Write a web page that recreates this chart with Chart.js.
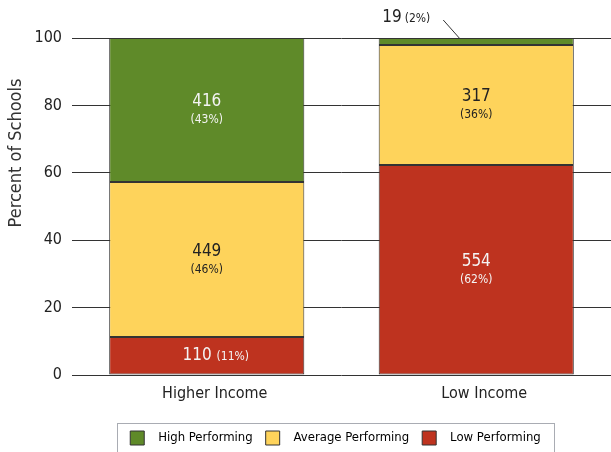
<!DOCTYPE html>
<html lang="en">
<head>
    <meta charset=utf-8>
    <title>Percent of Schools by Income</title>
    <script src="https://cdn.jsdelivr.net/npm/chart.js@4.4.1/dist/chart.umd.min.js"></script>
    <style>
        html, body { margin: 0; padding: 0; background: #fff; }
        #wrap { width: 611px; height: 452px; }
    </style>
</head>
<body>
<div id="wrap"><canvas id="myChart"></canvas></div>
<script>
    var FONT = "'Liberation Sans Narrow', 'DejaVu Sans Condensed', 'Roboto Condensed', sans-serif";

    var categories = ['Higher Income', 'Low Income'];
    var yTicks = [0, 20, 40, 60, 80, 100];
    var yTitle = 'Percent of Schools';

    var lowCounts = [110, 554];
    var lowPct = [11.3, 62.3];
    var avgCounts = [449, 317];
    var avgPct = [46.0, 35.6];
    var highCounts = [416, 19];
    var highPct = [42.7, 2.1];

    var green = '#5f8a29', yellow = '#fed35b', red = '#be331f';

    // writes count + (pct%) into each segment
    var segLabels = {
        id: 'segLabels',
        afterDatasetsDraw: function (chart) {
            var ctx = chart.ctx;
            ctx.save();
            chart.data.datasets.forEach(function (ds, di) {
                var meta = chart.getDatasetMeta(di);
                meta.data.forEach(function (bar, i) {
                    var p = bar.getProps(['x', 'y', 'base'], true);
                    var h = Math.abs(p.base - p.y);
                    var cy = (p.y + p.base) / 2;
                    var count = String(ds.counts[i]);
                    var pct = '(' + Math.round(ds.data[i]) + '%)';
                    var big = '17px ' + FONT, small = '12px ' + FONT;
                    ctx.fillStyle = ds.textColor;
                    ctx.textBaseline = 'middle';
                    if (h < 15) {
                        // too thin: put it above with a leader line
                        ctx.fillStyle = '#222';
                        ctx.font = small;
                        var pw = ctx.measureText(pct).width;
                        ctx.textAlign = 'right';
                        ctx.fillText(pct, p.x - 46, p.y - 19);
                        ctx.font = big;
                        ctx.fillText(count, p.x - 49 - pw, p.y - 20);
                        ctx.strokeStyle = '#333';
                        ctx.lineWidth = 1;
                        ctx.beginPath();
                        ctx.moveTo(p.x - 33, p.y - 18);
                        ctx.lineTo(p.x - 17, p.y);
                        ctx.stroke();
                    } else if (h < 45) {
                        ctx.font = big;
                        var cw = ctx.measureText(count + ' ').width;
                        ctx.font = small;
                        var pw2 = ctx.measureText(pct).width;
                        var x0 = p.x + 9 - (cw + pw2) / 2;
                        ctx.textAlign = 'left';
                        ctx.font = big;
                        ctx.fillText(count, x0, cy);
                        ctx.font = small;
                        ctx.fillText(pct, x0 + cw, cy + 1);
                    } else {
                        ctx.textAlign = 'center';
                        ctx.font = big;
                        ctx.fillText(count, p.x, cy - 8);
                        ctx.font = small;
                        ctx.fillText(pct, p.x, cy + 10);
                    }
                });
            });
            ctx.restore();
        }
    };

    // y title sits above the middle of the axis in the original
    var sideTitle = {
        id: 'sideTitle',
        afterDraw: function (chart) {
            var ctx = chart.ctx;
            ctx.save();
            ctx.translate(16, chart.chartArea.top + 115);
            ctx.rotate(-Math.PI / 2);
            ctx.font = '18px ' + FONT;
            ctx.fillStyle = '#333';
            ctx.textAlign = 'center';
            ctx.textBaseline = 'middle';
            ctx.fillText(yTitle, 0, 0);
            ctx.restore();
        }
    };

    // legend sits right of centre in the original, with a frame round it
    var legendFrame = {
        id: 'legendFrame',
        afterLayout: function (chart) {
            if (chart.legend) chart.legend.left += 60;
        },
        afterDraw: function (chart) {
            var boxes = chart.legend && chart.legend.legendHitBoxes;
            if (!boxes || !boxes.length) return;
            var l = Math.min.apply(null, boxes.map(function (b) { return b.left; }));
            var r = Math.max.apply(null, boxes.map(function (b) { return b.left + b.width; }));
            var t = Math.min.apply(null, boxes.map(function (b) { return b.top; }));
            var ctx = chart.ctx;
            ctx.save();
            ctx.strokeStyle = '#a9acb3';
            ctx.lineWidth = 1;
            ctx.strokeRect(Math.round(l - 13) + 0.5, Math.round(t - 8) + 0.5, Math.round(r - l + 26), 60);
            ctx.restore();
        }
    };

    var ctx = document.getElementById('myChart').getContext('2d');
    var chart = new Chart(ctx, {
        type: 'bar',
        data: {
            labels: categories,
            datasets: [
                {label: 'Low Performing', data: lowPct, counts: lowCounts, backgroundColor: red, textColor: '#f4f4f4'},
                {label: 'Average Performing', data: avgPct, counts: avgCounts, backgroundColor: yellow, textColor: '#222'},
                {label: 'High Performing', data: highPct, counts: highCounts, backgroundColor: green, textColor: '#f4f4f4'}
            ]
        },
        options: {
            responsive: true,
            maintainAspectRatio: false,
            animation: false,
            layout: {padding: {top: 38, right: 0, left: 0, bottom: -3}},
            datasets: {
                bar: {
                    borderColor: '#333',
                    borderWidth: 1,
                    borderSkipped: false,
                    categoryPercentage: 1,
                    barPercentage: 0.724
                }
            },
            scales: {
                x: {
                    stacked: true,
                    grid: {display: false},
                    border: {display: false},
                    ticks: {color: '#222', font: {family: FONT, size: 16}, padding: 1, labelOffset: 8},
                    afterFit: function (s) { s.height = 43; }
                },
                y: {
                    stacked: true,
                    min: 0,
                    max: 100,
                    afterBuildTicks: function (s) { s.ticks = yTicks.map(function (v) { return {value: v}; }); },
                    grid: {color: '#333', lineWidth: 1, drawTicks: false},
                    border: {display: false},
                    ticks: {color: '#222', font: {family: FONT, size: 16}, padding: 10},
                    afterFit: function (s) { s.width = 72; }
                }
            },
            plugins: {
                legend: {
                    position: 'bottom',
                    labels: {
                        color: '#222',
                        font: {family: FONT, size: 13},
                        boxWidth: 14,
                        boxHeight: 14,
                        padding: 13,
                        generateLabels: function (c) {
                            return c.data.datasets.map(function (ds, i) {
                                return {
                                    text: '  ' + ds.label,
                                    fillStyle: ds.backgroundColor,
                                    strokeStyle: '#333',
                                    lineWidth: 1,
                                    datasetIndex: i
                                };
                            }).reverse();
                        }
                    }
                },
                tooltip: {enabled: false}
            }
        },
        plugins: [segLabels, sideTitle, legendFrame]
    });
</script>
</body>
</html>
